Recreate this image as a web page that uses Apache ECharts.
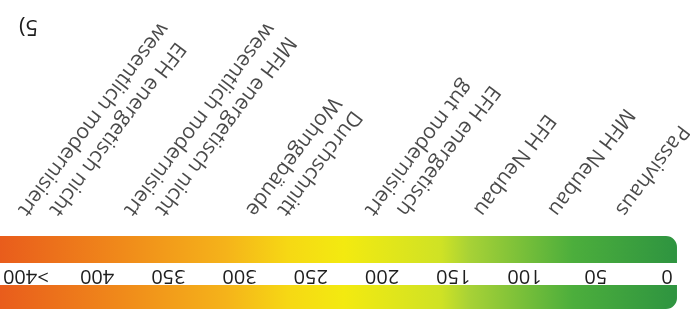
<!DOCTYPE html>
<html>
<head>
<meta charset="utf-8">
<script src="https://cdn.jsdelivr.net/npm/echarts@6/dist/echarts.min.js"></script>
<style>
  html, body { margin: 0; padding: 0; background: #fff; }
  /* die Vorlage liegt auf dem Kopf */
  #chart { width: 690px; height: 309px; transform: rotate(180deg); }
</style>
</head>
<body>
<div id="chart"></div>
<script>
  // Skala (kWh/m²a)
  const tickStep = 50
  const tickLabels = ['0', '50', '100', '150', '200', '250', '300', '350', '400', '>400']
  const scaleStart = -7
  const scaleEnd = 480

  // Gebäudetypen und ihre Lage auf der Skala
  const buildingTypes = [
    'Passivhaus',
    'MFH Neubau',
    'EFH Neubau',
    'EFH energetisch\ngut modernisiert',
    'Durchschnitt\nWohngebäude',
    'MFH energetisch nicht\nwesentlich modernisiert',
    'EFH energetisch nicht\nwesentlich modernisiert'
  ]
  const buildingPositions = [34, 81, 133, 187, 270, 355, 429]

  const footnote = '5)'

  const gradientStops = [
    [0, '#2e9440'],
    [0.15, '#4cae3c'],
    [0.3, '#a8d236'],
    [0.34, '#cfe225'],
    [0.48, '#f3ea10'],
    [0.56, '#f6d814'],
    [0.65, '#f5b31a'],
    [0.8, '#f08a1a'],
    [1, '#e8561c']
  ]

  let myChart = echarts.init(document.getElementById('chart'))

  function renderScale (params, api) {
    const x0 = api.coord([api.value(0), 0])[0]
    const x1 = api.coord([api.value(1), 0])[0]
    const cs = params.coordSys
    return {
      type: 'group',
      children: [
        {
          type: 'rect',
          shape: { x: x0, y: cs.y, width: x1 - x0, height: cs.height, r: 11 },
          style: {
            fill: new echarts.graphic.LinearGradient(0, 0, 1, 0,
              gradientStops.map(s => ({ offset: s[0], color: s[1] })))
          }
        },
        {
          type: 'rect',
          shape: { x: x0 - 5, y: cs.y + 24, width: x1 - x0 + 10, height: 22 },
          style: { fill: '#ffffff' }
        }
      ]
    }
  }

  myChart.setOption({
    backgroundColor: '#ffffff',
    animation: false,
    title: {
      text: footnote,
      right: 14,
      top: 267,
      textStyle: { fontFamily: 'Open Sans', fontSize: 22, fontWeight: 'normal', color: '#1e1e1e' }
    },
    grid: [
      { left: 23, right: 22, top: -2, height: 75 },
      { left: 23, right: 22, top: 71, height: 2 }
    ],
    xAxis: [
      {
        gridIndex: 0,
        type: 'value',
        min: 0,
        max: tickStep * (tickLabels.length - 1),
        interval: tickStep,
        offset: -40,
        z: 10,
        axisLine: { show: false },
        axisTick: { show: false },
        splitLine: { show: false },
        axisLabel: {
          margin: 0,
          verticalAlign: 'middle',
          showMinLabel: true,
          showMaxLabel: true,
          fontFamily: 'Open Sans',
          fontSize: 20,
          color: '#1e1e1e',
          formatter: v => tickLabels[Math.round(v / tickStep)]
        }
      },
      {
        gridIndex: 1,
        type: 'value',
        min: 0,
        max: tickStep * (tickLabels.length - 1),
        show: false
      }
    ],
    yAxis: [
      { gridIndex: 0, type: 'value', min: 0, max: 1, show: false },
      { gridIndex: 1, type: 'value', min: 0, max: 1, show: false }
    ],
    series: [
      {
        type: 'custom',
        xAxisIndex: 0,
        yAxisIndex: 0,
        clip: false,
        silent: true,
        renderItem: renderScale,
        data: [[scaleStart, scaleEnd]],
        z: 1
      },
      {
        type: 'scatter',
        xAxisIndex: 1,
        yAxisIndex: 1,
        symbolSize: 0,
        silent: true,
        data: buildingPositions.map((p, i) => ({ name: buildingTypes[i], value: [p, 0] })),
        label: {
          show: true,
          position: [0, 0],
          rotate: 53,
          align: 'right',
          verticalAlign: 'top',
          formatter: p => {
            const lines = p.name.split('\n')
            return lines.map((l, i) => (i === 0 ? '{a|' : '{b|') + l + '}').join('\n')
          },
          rich: {
            a: { fontFamily: 'Open Sans', fontSize: 21, lineHeight: 25, color: '#1a1a1a', align: 'right', padding: [0, 19, 0, 0] },
            b: { fontFamily: 'Open Sans', fontSize: 21, lineHeight: 25, color: '#1a1a1a', align: 'right' }
          }
        }
      }
    ]
  })
</script>
</body>
</html>
